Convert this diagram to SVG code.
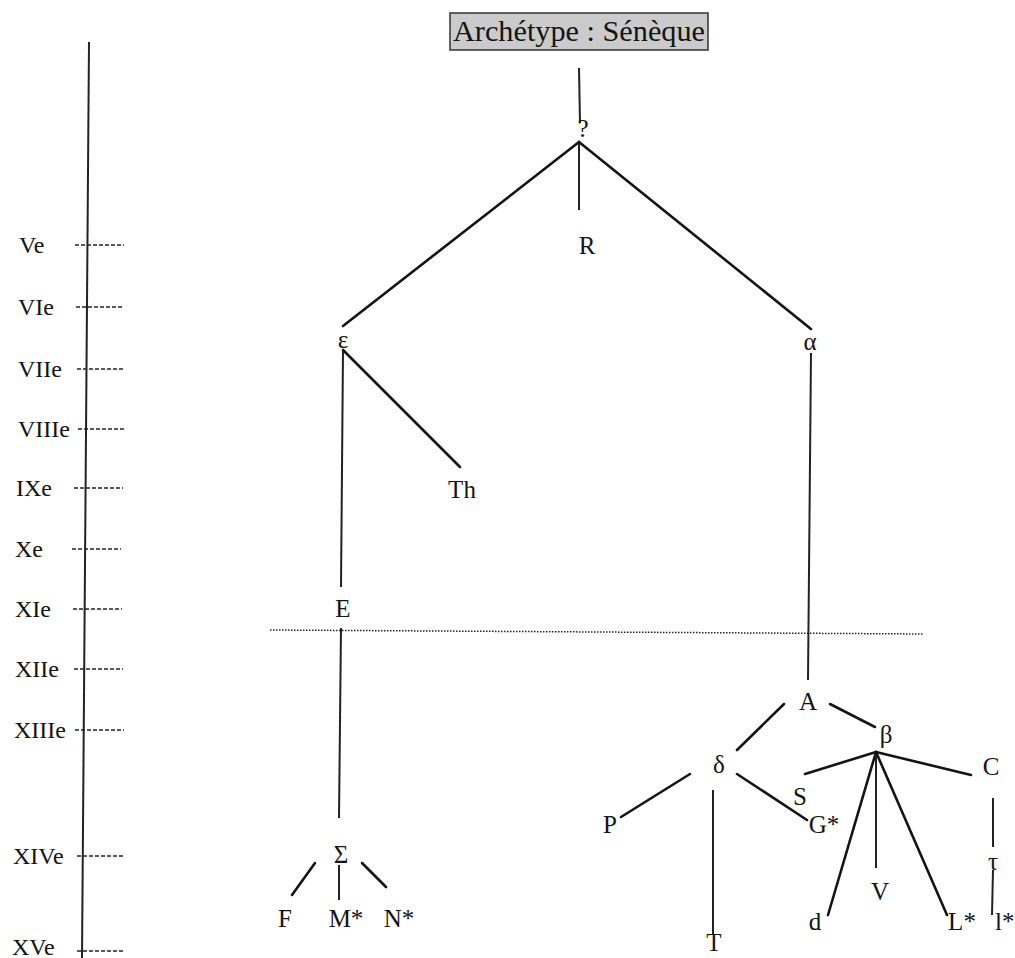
<svg xmlns="http://www.w3.org/2000/svg" width="1015" height="958" viewBox="0 0 1015 958">
<style>
text{font-family:"Liberation Serif","Times New Roman",serif;fill:#141414}
.n{font-size:25px;text-anchor:middle}
.t{font-size:24px}
.e{stroke:#141414;stroke-width:2.6;fill:none;stroke-linecap:round}
.v{stroke:#222;stroke-width:2;fill:none}
.tick{stroke:#222;stroke-width:1.6;stroke-dasharray:4 2;fill:none}
.dot{stroke:#222;stroke-width:1.5;stroke-dasharray:1.5 1.5;fill:none}
</style>
<rect width="1015" height="958" fill="#fff"/>
<g id="timeline">
<line class="v" x1="89" y1="42" x2="82" y2="958"/>
<line class="tick" x1="75" y1="245" x2="124" y2="245"/>
<line class="tick" x1="76" y1="307" x2="124" y2="307"/>
<line class="tick" x1="77" y1="369" x2="125" y2="369"/>
<line class="tick" x1="78" y1="429" x2="126" y2="429"/>
<line class="tick" x1="74" y1="488" x2="123" y2="488"/>
<line class="tick" x1="72" y1="549" x2="121" y2="549"/>
<line class="tick" x1="73" y1="609" x2="122" y2="609"/>
<line class="tick" x1="74" y1="669" x2="123" y2="669"/>
<line class="tick" x1="75" y1="730" x2="124" y2="730"/>
<line class="tick" x1="77" y1="856" x2="125" y2="856"/>
<line class="tick" x1="77" y1="951" x2="123" y2="951"/>
<text class="t" x="19" y="253">Ve</text>
<text class="t" x="18" y="315">VIe</text>
<text class="t" x="18" y="377">VIIe</text>
<text class="t" x="18" y="437">VIIIe</text>
<text class="t" x="16" y="496">IXe</text>
<text class="t" x="15" y="557">Xe</text>
<text class="t" x="15" y="617">XIe</text>
<text class="t" x="15" y="677">XIIe</text>
<text class="t" x="14" y="738">XIIIe</text>
<text class="t" x="13" y="864">XIVe</text>
<text class="t" x="12" y="955">XVe</text>
</g>
<g id="connectors">
<line class="v" x1="579" y1="68" x2="580" y2="123"/>
<line class="v" x1="579" y1="142" x2="579" y2="210"/>
<line class="e" x1="579" y1="142" x2="343" y2="326"/>
<line class="e" x1="579" y1="142" x2="811" y2="329"/>
<line class="v" x1="343" y1="351" x2="341" y2="587"/>
<line class="e" x1="343" y1="350" x2="460" y2="467"/>
<line class="v" x1="341" y1="628" x2="339" y2="818"/>
<line class="e" x1="315" y1="863" x2="292" y2="895"/>
<line class="v" x1="339" y1="865" x2="339" y2="900"/>
<line class="e" x1="362" y1="863" x2="386" y2="887"/>
<line class="v" x1="811" y1="353" x2="808" y2="680"/>
<line class="e" x1="784" y1="704" x2="737" y2="750"/>
<line class="e" x1="830" y1="704" x2="875" y2="727"/>
<line class="e" x1="690" y1="774" x2="621" y2="817"/>
<line class="e" x1="737" y1="774" x2="807" y2="820"/>
<line class="v" x1="713" y1="790" x2="713" y2="934"/>
<line class="e" x1="876" y1="752" x2="805" y2="774"/>
<line class="e" x1="876" y1="752" x2="971" y2="775"/>
<line class="e" x1="876" y1="752" x2="828" y2="915"/>
<line class="v" x1="876" y1="752" x2="876" y2="868"/>
<line class="e" x1="876" y1="752" x2="947" y2="915"/>
<line class="v" x1="993" y1="798" x2="993" y2="847"/>
<line class="v" x1="993" y1="870" x2="992" y2="915"/>
<line class="dot" x1="270" y1="630" x2="924" y2="634"/>
</g>
<g id="archetype">
<rect x="450" y="13" width="258" height="37" fill="#cbcbcb" stroke="#333" stroke-width="1.5"/>
<text x="453" y="41" font-size="29" textLength="252" lengthAdjust="spacingAndGlyphs">Archétype : Sénèque</text>
</g>
<g id="n-q"><text class="n" x="583" y="137" font-size="22">?</text></g>
<g id="n-R"><text class="n" x="587" y="254">R</text></g>
<g id="n-epsilon"><text class="n" x="343" y="348">ε</text></g>
<g id="n-alpha"><text class="n" x="810" y="350">α</text></g>
<g id="n-Th"><text class="n" x="462" y="498">Th</text></g>
<g id="n-E"><text class="n" x="343" y="617">E</text></g>
<g id="n-Sigma"><text class="n" x="341" y="863">Σ</text></g>
<g id="n-F"><text class="n" x="285" y="927">F</text></g>
<g id="n-M"><text class="n" x="346" y="927">M*</text></g>
<g id="n-N"><text class="n" x="399" y="927">N*</text></g>
<g id="n-A"><text class="n" x="808" y="710">A</text></g>
<g id="n-beta"><text class="n" x="886" y="743">β</text></g>
<g id="n-delta"><text class="n" x="719" y="773">δ</text></g>
<g id="n-S"><text class="n" x="800" y="805">S</text></g>
<g id="n-P"><text class="n" x="610" y="833">P</text></g>
<g id="n-G"><text class="n" x="824" y="833">G*</text></g>
<g id="n-C"><text class="n" x="991" y="775">C</text></g>
<g id="n-tau"><text class="n" x="993" y="870">τ</text></g>
<g id="n-V"><text class="n" x="880" y="900">V</text></g>
<g id="n-d"><text class="n" x="815" y="930">d</text></g>
<g id="n-L"><text class="n" x="962" y="930">L*</text></g>
<g id="n-l"><text x="995" y="930" font-size="25">l*</text></g>
<g id="n-T"><text class="n" x="714" y="951">T</text></g>
</svg>
